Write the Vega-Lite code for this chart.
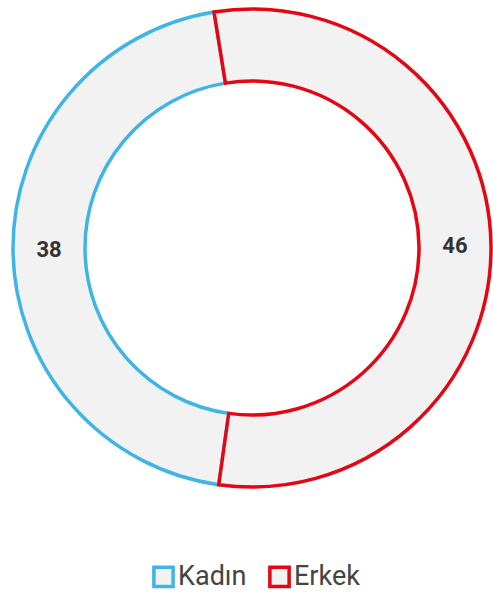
{
  "$schema": "https://vega.github.io/schema/vega-lite/v6.json",
  "width": 504,
  "height": 496,
  "padding": {"top": 0, "left": 0, "right": 0, "bottom": 100},
  "autosize": "none",
  "background": "white",
  "config": {"view": {"stroke": null}, "font": "Roboto"},
  "data": {"values": [
    {"cinsiyet": "Kadın", "deger": 38, "sira": 1},
    {"cinsiyet": "Erkek", "deger": 46, "sira": 2}
  ]},
  "encoding": {
    "theta": {"field": "deger", "type": "quantitative", "stack": true, "scale": {"range": [3.2812, 9.5644]}},
    "order": {"field": "sira", "type": "quantitative"}
  },
  "layer": [
    {
      "mark": {"type": "arc", "outerRadius": 239, "innerRadius": 167, "fill": "#f2f2f2", "strokeWidth": 3.5},
      "encoding": {
        "stroke": {
          "field": "cinsiyet", "type": "nominal",
          "scale": {"domain": ["Kadın", "Erkek"], "range": ["#40b4e5", "#e30613"]},
          "legend": {
            "title": null, "orient": "none", "legendX": 150, "legendY": 563, "direction": "horizontal",
            "symbolType": "square", "symbolSize": 370, "symbolStrokeWidth": 3.5, "symbolFillColor": "#f2f2f2",
            "labelFontSize": 27, "labelColor": "#444444", "labelFont": "Roboto", "labelOffset": 1,
            "columnPadding": 15
          }
        }
      }
    },
    {
      "mark": {"type": "text", "radius": 203, "fontSize": 22, "fontWeight": "bold", "color": "#333333", "font": "Roboto"},
      "encoding": {"text": {"field": "deger", "type": "quantitative"}}
    }
  ]
}
